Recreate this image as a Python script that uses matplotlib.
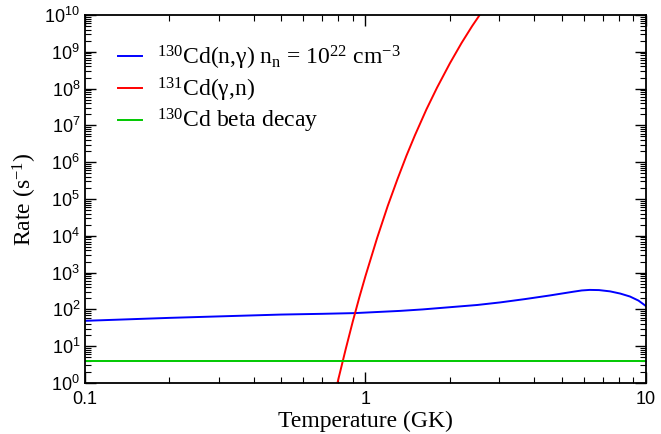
import numpy as np
import matplotlib.pyplot as plt
from matplotlib.ticker import LogLocator, FuncFormatter, NullFormatter

plt.rcParams['font.family'] = 'serif'
plt.rcParams['font.serif'] = ['Liberation Serif', 'DejaVu Serif']
plt.rcParams['mathtext.fontset'] = 'custom'
plt.rcParams['mathtext.rm'] = 'Liberation Serif'
plt.rcParams['mathtext.it'] = 'Liberation Serif:italic'

# Data (temperature in GK, log10 of rate in 1/s)
ng_T = [0.1, 0.2, 0.3, 0.5, 0.7, 0.918, 1.33, 1.6, 2.0, 2.5, 3.02, 3.7, 4.55,
        5.0, 5.5, 5.9, 6.3, 6.8, 7.45, 8.1, 8.77, 9.4, 10.0]
ng_logR = [1.69, 1.77, 1.81, 1.86, 1.88, 1.90, 1.96, 2.00, 2.06, 2.12, 2.19, 2.28, 2.38,
           2.43, 2.48, 2.515, 2.53, 2.525, 2.49, 2.43, 2.35, 2.24, 2.09]

gn_T = [0.76, 0.8, 0.85, 0.9, 0.95, 1.0, 1.1, 1.2, 1.3, 1.4, 1.5, 1.65, 1.8,
        2.0, 2.2, 2.4, 2.6, 2.8]
gn_logR = [-0.64, 0.10, 0.92, 1.66, 2.32, 2.91, 3.94, 4.81, 5.54, 6.18, 6.73, 7.44, 8.03,
           8.69, 9.24, 9.70, 10.09, 10.43]

beta_T = [0.1, 10.0]
beta_logR = [0.607, 0.607]

labels = ['$^{130}$Cd(n,γ) n$_\\mathrm{n}$ = 10$^{22}$ cm$^{-3}$',
          '$^{131}$Cd(γ,n)',
          '$^{130}$Cd beta decay']

fig = plt.figure(figsize=(6.61, 4.34), dpi=100)
ax = fig.add_axes([0.1286, 0.1175, 0.8487, 0.8479])

ax.plot(ng_T, 10 ** np.array(ng_logR), color='#0000ff', lw=1.4, label=labels[0])
ax.plot(gn_T, 10 ** np.array(gn_logR), color='#ff0000', lw=1.4, label=labels[1])
ax.plot(beta_T, 10 ** np.array(beta_logR), color='#00c800', lw=1.4, label=labels[2])

ax.set_xscale('log')
ax.set_yscale('log')
ax.set_xlim(0.1, 10)
ax.set_ylim(1, 1e10)

ax.yaxis.set_major_locator(LogLocator(base=10, numticks=20))
ax.yaxis.set_minor_locator(LogLocator(base=10, subs=np.arange(2, 10), numticks=100))
ax.yaxis.set_minor_formatter(NullFormatter())
ax.xaxis.set_major_formatter(FuncFormatter(lambda v, p: '%g' % v))
ax.xaxis.set_minor_formatter(NullFormatter())

ax.tick_params(which='both', direction='in', top=True, right=True,
               labelsize=13, labelfontfamily='Liberation Sans')
ax.tick_params(which='major', length=8, width=1)
ax.tick_params(which='minor', length=4, width=0.8)
ax.tick_params(axis='x', pad=6)
for s in ax.spines.values():
    s.set_linewidth(1.3)

ax.set_xlabel('Temperature (GK)', fontsize=17, labelpad=2)
ax.set_ylabel('Rate (s$^{-1}$)', fontsize=17, labelpad=4)

ax.legend(loc='upper left', frameon=False, fontsize=17, handlelength=1.0,
          handletextpad=0.65, labelspacing=0.15, borderpad=0, borderaxespad=0,
          bbox_to_anchor=(0.0588, 0.922))

fig.savefig('out.png', dpi=100)
